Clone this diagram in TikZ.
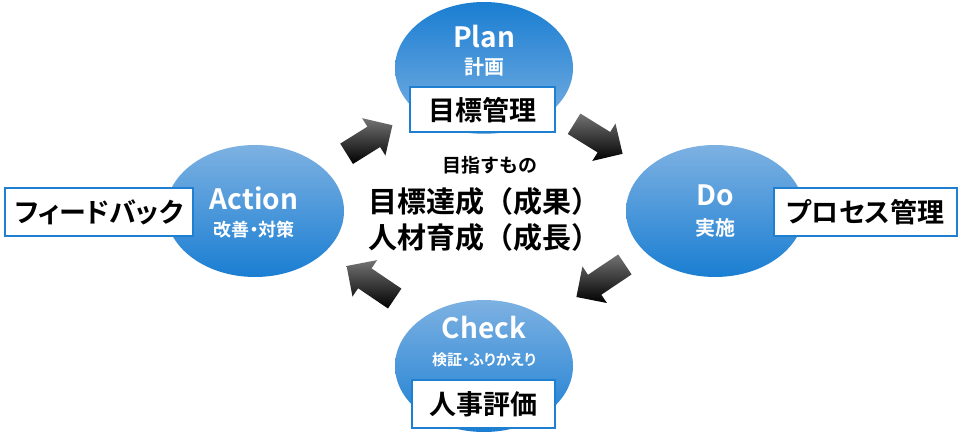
\documentclass[tikz,border=0pt]{standalone}
\usepackage{fontspec}
\usetikzlibrary{shapes.geometric, calc}
\newfontfamily\jpfont{Noto Sans CJK JP}[BoldFont=* Bold]
\newfontfamily\jppfont{Noto Sans CJK JP}[BoldFont=* Bold, RawFeature=+palt]
\definecolor{phaselight}{HTML}{7DB1E2}
\definecolor{phasedark}{HTML}{1A7ED2}
\definecolor{tagline}{HTML}{1F80D2}

% block arrow from #1 to #2
\newcommand\cyclearrow[2]{%
	\coordinate (hb) at ($(#2)!22pt!(#1)$);
	\shade[top color=black!55, bottom color=black]
		($(#1)!12pt!90:(#2)$) -- ($(hb)!12pt!90:(#2)$) -- ($(hb)!22pt!90:(#2)$)
		-- (#2) -- ($(hb)!22pt!-90:(#2)$) -- ($(hb)!12pt!-90:(#2)$)
		-- ($(#1)!12pt!-90:(#2)$) -- cycle;
}

\begin{document}
\begin{tikzpicture}[thick, x=1pt, y=-1pt,
		phase/.style={ellipse, minimum width=178pt, minimum height=132pt, inner sep=0pt,
			top color=phaselight, bottom color=phasedark},
		phasetitle/.style={text=white, font=\jpfont\bfseries\fontsize{28}{28}\selectfont},
		phasesub/.style={text=white, font=\jppfont\bfseries\fontsize{#1}{#1}\selectfont},
		phasesub/.default=20,
		tagbox/.style={draw=tagline, line width=2pt, fill=white, minimum height=48pt,
			inner sep=0pt, font=\jppfont\bfseries\fontsize{27}{27}\selectfont},
		aimtext/.style={font=\jpfont\bfseries\fontsize{#1}{#1}\selectfont}]

	\path[use as bounding box, fill=white] (0,0) rectangle (960,438);

	% Draw the four phases
	\node[phase, top color=phasedark, bottom color=phaselight] (plan) at (484,68) {};
	\node[phase] (do) at (715,211) {};
	\node[phase] (check) at (484,366) {};
	\node[phase] (action) at (255,211) {};

	\node[phasetitle] (plantitle) at (484,37) {Plan};
	\node[phasesub] (plansub) at (484,67) {計画};
	\node[phasetitle] (dotitle) at (715,195) {Do};
	\node[phasesub] (dosub) at (715,228) {実施};
	\node[phasetitle] (checktitle) at (484,328) {Check};
	\node[phasesub=15] (checksub) at (484,360) {検証・ふりかえり};
	\node[phasesub=18] (actionsub) at (254,230) {改善・対策};
	\node[phasetitle] (actiontitle) at (254,198) {Action};

	% Draw the boxes next to the phases
	\node[tagbox, minimum width=145pt, minimum height=45pt] (plantag) at (482.5,110) {目標管理};
	\node[tagbox, minimum width=183pt] (dotag) at (865.5,212.5) {プロセス管理};
	\node[tagbox, minimum width=143pt] (checktag) at (483.5,404) {人事評価};
	\node[tagbox, minimum width=188pt] (actiontag) at (99,212) {フィードバック};

	% Draw the arrows between the phases
	\coordinate (a1s) at ($(action)!0.4!(plan)$);
	\coordinate (a1e) at ($(action)!0.6!(plan)$);
	\coordinate (a2s) at ($(plan)!0.39!(do)$);
	\coordinate (a2e) at ($(plan)!0.6!(do)$);
	\coordinate (a3s) at ($(do)!0.39!(check)+(0,-7)$);
	\coordinate (a3e) at ($(do)!0.6!(check)+(0,-7)$);
	\coordinate (a4s) at ($(check)!0.39!(action)+(0,-7)$);
	\coordinate (a4e) at ($(check)!0.6!(action)+(0,-7)$);
	\cyclearrow{a1s}{a1e}
	\cyclearrow{a2s}{a2e}
	\cyclearrow{a3s}{a3e}
	\cyclearrow{a4s}{a4e}

	% Draw the text in the middle
	\node[aimtext=19] (aim) at (490,165) {目指すもの};
	\node[aimtext=29] (goal1) at (484,202) {目標達成（成果）};
	\node[aimtext=29] (goal2) at (484,238) {人材育成（成長）};

\end{tikzpicture}
\end{document}
